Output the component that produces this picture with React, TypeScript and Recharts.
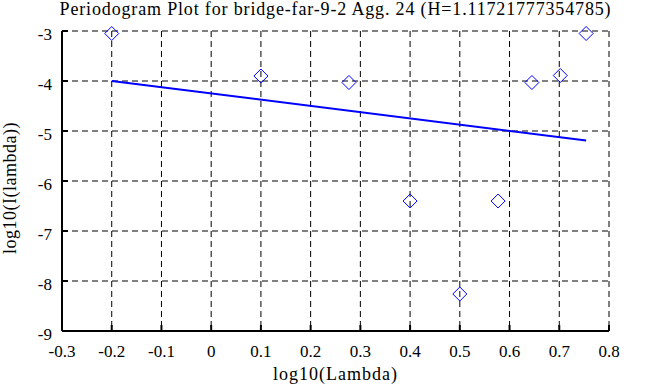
import { ComposedChart, CartesianGrid, Label, Line, Scatter, XAxis, YAxis } from "recharts";

const TITLE = "Periodogram Plot for bridge-far-9-2 Agg. 24 (H=1.11721777354785)";

// periodogram points (log10 lambda, log10 I(lambda))
const logLambda = [-0.2, 0.1, 0.277, 0.4, 0.5, 0.577, 0.645, 0.702, 0.754];
const logI = [-3.05, -3.9, -4.03, -6.4, -8.26, -6.4, -4.03, -3.89, -3.05];

// least-squares fit endpoints
const fitX = [-0.2, 0.754];
const fitY = [-4.0, -5.19];

const xTicks = [-0.3, -0.2, -0.1, 0, 0.1, 0.2, 0.3, 0.4, 0.5, 0.6, 0.7, 0.8];
const yTicks = [-9, -8, -7, -6, -5, -4, -3];

const points = logLambda.map((x, i) => ({ x, y: logI[i] }));
const fit = fitX.map((x, i) => ({ x, y: fitY[i] }));

const FONT = "'Liberation Serif', 'Times New Roman', serif";
const AXIS = { stroke: "#000", strokeWidth: 2 };

function Diamond(props: any) {
  const { cx, cy } = props;
  const r = 7;
  return (
    <polygon
      points={`${cx},${cy - r} ${cx + r},${cy} ${cx},${cy + r} ${cx - r},${cy}`}
      fill="none"
      stroke="#0000ff"
      strokeWidth={1}
    />
  );
}

const fmt = (v: number) => String(Math.round(v * 10) / 10);
const blank = () => "";

export default function App() {
  return (
    <div style={{ position: "absolute", left: 0, top: 0, width: 663, height: 387, background: "#fff", fontFamily: FONT }}>
      <style>{`svg text, svg tspan { font-family: ${FONT} !important; }`}</style>
      <div
        style={{
          position: "absolute",
          left: 0,
          top: 0,
          width: 671,
          textAlign: "center",
          fontSize: 18,
          letterSpacing: 0.84,
          lineHeight: "18px",
          color: "#000",
          whiteSpace: "nowrap",
        }}
      >
        {TITLE}
      </div>
      <ComposedChart width={663} height={387} margin={{ top: 31, right: 54, bottom: 0, left: 0 }}>
        <CartesianGrid stroke="#000" strokeDasharray="6 4" strokeWidth={1} />
        <XAxis
          type="number"
          dataKey="x"
          domain={[-0.3, 0.8]}
          ticks={xTicks}
          tickFormatter={fmt}
          axisLine={AXIS}
          tickLine={AXIS}
          tickSize={-6}
          tickMargin={20}
          height={56}
          tick={{ fill: "#000", fontSize: 17 }}
        >
          <Label
            value="log10(Lambda)"
            position="insideBottom"
            offset={7}
            fill="#000"
            fontSize={18}
            style={{ letterSpacing: 1 }}
          />
        </XAxis>
        <XAxis
          xAxisId="top"
          orientation="top"
          type="number"
          domain={[-0.3, 0.8]}
          ticks={xTicks}
          tickFormatter={blank}
          allowDataOverflow
          axisLine={AXIS}
          tickLine={AXIS}
          tickSize={-6}
          height={0}
        />
        <YAxis
          type="number"
          dataKey="y"
          domain={[-9, -3]}
          ticks={yTicks}
          axisLine={AXIS}
          tickLine={AXIS}
          tickSize={-6}
          tickMargin={16}
          width={62}
          tick={{ fill: "#000", fontSize: 17, dy: 3 }}
        >
          <Label
            content={() => (
              <text
                transform="translate(16,188) rotate(-90)"
                textAnchor="middle"
                fill="#000"
                fontSize={18}
                style={{ letterSpacing: 0.5 }}
              >
                log10(I(lambda))
              </text>
            )}
          />
        </YAxis>
        <YAxis
          yAxisId="right"
          orientation="right"
          type="number"
          domain={[-9, -3]}
          ticks={yTicks}
          tickFormatter={blank}
          allowDataOverflow
          axisLine={AXIS}
          tickLine={AXIS}
          tickSize={-6}
          width={0}
        />
        <Line data={fit} dataKey="y" stroke="#0000ff" strokeWidth={2} dot={false} isAnimationActive={false} />
        <Scatter data={points} dataKey="y" shape={<Diamond />} isAnimationActive={false} />
      </ComposedChart>
    </div>
  );
}
